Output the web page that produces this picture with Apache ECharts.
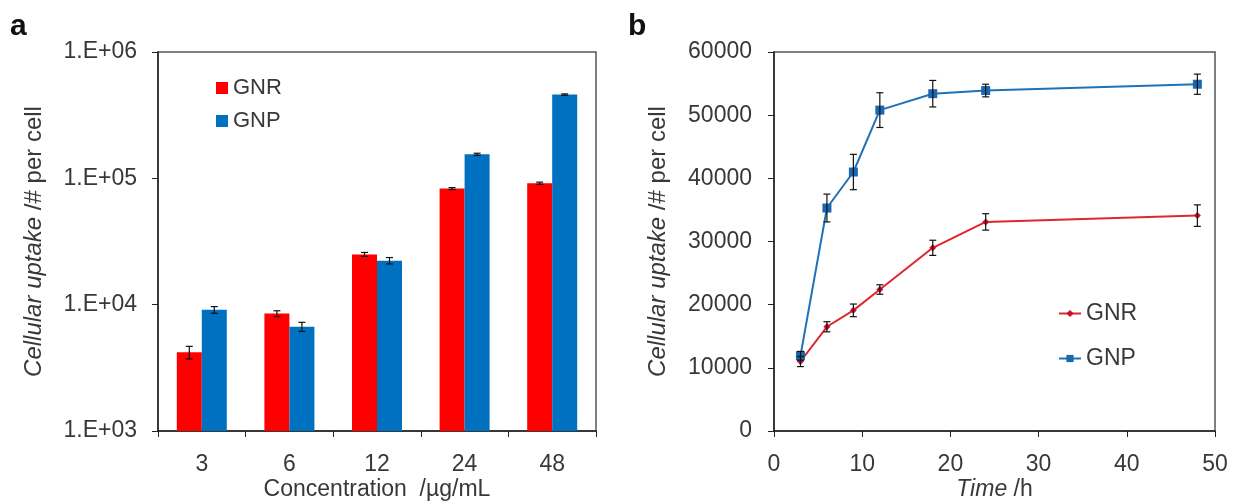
<!DOCTYPE html>
<html>
<head>
<meta charset="utf-8">
<script src="https://cdn.jsdelivr.net/npm/echarts@6/dist/echarts.min.js"></script>
<style>
html,body{margin:0;padding:0;background:#fff;}
#chart{width:1233px;height:501px;}
</style>
</head>
<body>
<div id="chart"></div>
<script>
// ---------- Data ----------
const concLabels = ['3', '6', '12', '24', '48'];
const gnrBar = [4200, 8500, 25000, 83000, 91500];
const gnpBar = [9100, 6700, 22300, 155000, 460000];
const gnrBarErr = [480, 450, 900, 1500, 1800];
const gnpBarErr = [550, 550, 1300, 3000, 6000];
const logTickLabels = ['1.E+03', '1.E+04', '1.E+05', '1.E+06'];

const timeH = [3, 6, 9, 12, 18, 24, 48];
const gnrLine = [11000, 16500, 19100, 22400, 29000, 33100, 34100];
const gnpLine = [11900, 35300, 41000, 50800, 53400, 53900, 54900];
const gnrLineErr = [800, 800, 1000, 750, 1200, 1300, 1700];
const gnpLineErr = [700, 2200, 2800, 2750, 2100, 1000, 1600];

// ---------- Style ----------
const FONT = 'Liberation Sans, Arial, sans-serif';
const RED_BAR = '#ff0000';
const BLUE_BAR = '#0070c0';
const RED_LINE = '#e0262b';
const BLUE_LINE = '#1f72b8';
const TXT = '#383838';
const AXIS = '#222';
const BAR_W = 25;
const FS = 23;

function errRender(offset, capHalf) {
  return function (params, api) {
    const x = api.value(0), v = api.value(1), e = api.value(2);
    const top = api.coord([x, v + e]);
    const bot = api.coord([x, v - e]);
    const cx = top[0] + offset;
    const st = { stroke: '#111', lineWidth: 1.2 };
    return {
      type: 'group',
      children: [
        { type: 'line', shape: { x1: cx, y1: top[1], x2: cx, y2: bot[1] }, style: st },
        { type: 'line', shape: { x1: cx - capHalf, y1: top[1], x2: cx + capHalf, y2: top[1] }, style: st },
        { type: 'line', shape: { x1: cx - capHalf, y1: bot[1], x2: cx + capHalf, y2: bot[1] }, style: st }
      ]
    };
  };
}

const yNameRich = {
  i: { fontStyle: 'italic', fontSize: 24, fontFamily: FONT, color: TXT },
  n: { fontSize: 24, fontFamily: FONT, color: TXT }
};
const xNameRich = {
  i: { fontStyle: 'italic', fontSize: FS, fontFamily: FONT, color: TXT },
  n: { fontSize: FS, fontFamily: FONT, color: TXT }
};

const chart = echarts.init(document.getElementById('chart'), null, { renderer: 'canvas' });

const option = {
  backgroundColor: '#fff',
  animation: false,
  textStyle: { fontFamily: FONT },
  title: [
    { text: 'a', left: 5, top: 7, textStyle: { fontSize: 30, fontWeight: 'bold', color: '#111', fontFamily: FONT } },
    { text: 'b', left: 623, top: 7, textStyle: { fontSize: 30, fontWeight: 'bold', color: '#111', fontFamily: FONT } }
  ],
  legend: [
    {
      data: ['GNR', 'GNP'],
      orient: 'vertical', left: 216, top: 77, padding: 0,
      icon: 'rect', itemWidth: 12, itemHeight: 12, itemGap: 11,
      textStyle: { fontSize: 22, color: TXT, fontFamily: FONT }
    },
    {
      data: ['GNR ', 'GNP '],
      orient: 'vertical', left: 1058, top: 302, padding: 0,
      itemWidth: 22, itemHeight: 9, itemGap: 22,
      formatter: function (n) { return n.trim(); },
      textStyle: { fontSize: FS, color: TXT, fontFamily: FONT }
    }
  ],
  grid: [
    { left: 158, right: 637, top: 52, bottom: 70, show: true, borderColor: '#555', borderWidth: 1.5, outerBoundsMode: 'none', containLabel: false },
    { left: 774, right: 18, top: 52, bottom: 70, show: true, borderColor: '#555', borderWidth: 1.5, outerBoundsMode: 'none', containLabel: false }
  ],
  xAxis: [
    {
      gridIndex: 0, type: 'category', data: concLabels,
      axisLine: { lineStyle: { color: AXIS, width: 1.5 } },
      axisTick: { show: true, length: 6, alignWithLabel: false, lineStyle: { color: AXIS } },
      axisLabel: { fontSize: FS, color: TXT, margin: 22, fontFamily: FONT },
      name: 'Concentration  /\u00b5g/mL', nameLocation: 'middle', nameGap: 47, nameMoveOverlap: false,
      nameTextStyle: { fontSize: FS, color: TXT, fontFamily: FONT }
    },
    {
      gridIndex: 1, type: 'value', min: 0, max: 50, interval: 10,
      splitLine: { show: false },
      axisLine: { lineStyle: { color: AXIS, width: 1.5 } },
      axisTick: { show: true, length: 6, lineStyle: { color: AXIS } },
      axisLabel: { fontSize: FS, color: TXT, margin: 22, fontFamily: FONT },
      name: '{i|Time} {n|/h}', nameLocation: 'middle', nameGap: 47, nameMoveOverlap: false,
      nameTextStyle: { fontSize: FS, color: TXT, fontFamily: FONT, rich: xNameRich }
    }
  ],
  yAxis: [
    {
      gridIndex: 0, type: 'log', logBase: 10, min: 1000, max: 1000000,
      splitLine: { show: false },
      minorTick: { show: false },
      axisLine: { show: true, lineStyle: { color: AXIS, width: 1.5 } },
      axisTick: { show: true, length: 6, lineStyle: { color: AXIS } },
      axisLabel: {
        fontSize: FS, color: TXT, margin: 21, fontFamily: FONT,
        formatter: function (v) { return logTickLabels[Math.round(Math.log10(v)) - 3]; }
      },
      name: '{i|Cellular uptake} {n|/# per cell}', nameLocation: 'middle', nameGap: 112, nameRotate: 90,
      nameTextStyle: { fontSize: 24, color: TXT, fontFamily: FONT, rich: yNameRich }
    },
    {
      gridIndex: 1, type: 'value', min: 0, max: 60000, interval: 10000,
      splitLine: { show: false },
      axisLine: { show: true, lineStyle: { color: AXIS, width: 1.5 } },
      axisTick: { show: true, length: 6, lineStyle: { color: AXIS } },
      axisLabel: {
        fontSize: FS, color: TXT, margin: 22, fontFamily: FONT,
        formatter: function (v) { return String(v); }
      },
      name: '{i|Cellular uptake} {n|/# per cell}', nameLocation: 'middle', nameGap: 104, nameRotate: 90,
      nameTextStyle: { fontSize: 24, color: TXT, fontFamily: FONT, rich: yNameRich }
    }
  ],
  series: [
    { name: 'GNR', type: 'bar', xAxisIndex: 0, yAxisIndex: 0, data: gnrBar, barWidth: BAR_W, barGap: '0%', itemStyle: { color: RED_BAR } },
    { name: 'GNP', type: 'bar', xAxisIndex: 0, yAxisIndex: 0, data: gnpBar, barWidth: BAR_W, barGap: '0%', itemStyle: { color: BLUE_BAR } },
    {
      name: 'errGNRbar', type: 'custom', xAxisIndex: 0, yAxisIndex: 0,
      renderItem: errRender(-BAR_W / 2, 3.5), encode: { x: 0, y: 1 },
      data: concLabels.map(function (c, i) { return [i, gnrBar[i], gnrBarErr[i]]; }), z: 5
    },
    {
      name: 'errGNPbar', type: 'custom', xAxisIndex: 0, yAxisIndex: 0,
      renderItem: errRender(BAR_W / 2, 3.5), encode: { x: 0, y: 1 },
      data: concLabels.map(function (c, i) { return [i, gnpBar[i], gnpBarErr[i]]; }), z: 5
    },
    {
      name: 'GNR ', type: 'line', xAxisIndex: 1, yAxisIndex: 1,
      data: timeH.map(function (t, i) { return [t, gnrLine[i]]; }),
      symbol: 'diamond', symbolSize: 7, lineStyle: { color: RED_LINE, width: 2 }, itemStyle: { color: '#c8102e' }, z: 3
    },
    {
      name: 'GNP ', type: 'line', xAxisIndex: 1, yAxisIndex: 1,
      data: timeH.map(function (t, i) { return [t, gnpLine[i]]; }),
      symbol: 'rect', symbolSize: 9, lineStyle: { color: BLUE_LINE, width: 2 }, itemStyle: { color: '#1a68ad' }, z: 3
    },
    {
      name: 'errGNRline', type: 'custom', xAxisIndex: 1, yAxisIndex: 1,
      renderItem: errRender(0, 3.5), encode: { x: 0, y: 1 },
      data: timeH.map(function (t, i) { return [t, gnrLine[i], gnrLineErr[i]]; }), z: 4
    },
    {
      name: 'errGNPline', type: 'custom', xAxisIndex: 1, yAxisIndex: 1,
      renderItem: errRender(0, 3.5), encode: { x: 0, y: 1 },
      data: timeH.map(function (t, i) { return [t, gnpLine[i], gnpLineErr[i]]; }), z: 4
    }
  ]
};

chart.setOption(option);
</script>
</body>
</html>
